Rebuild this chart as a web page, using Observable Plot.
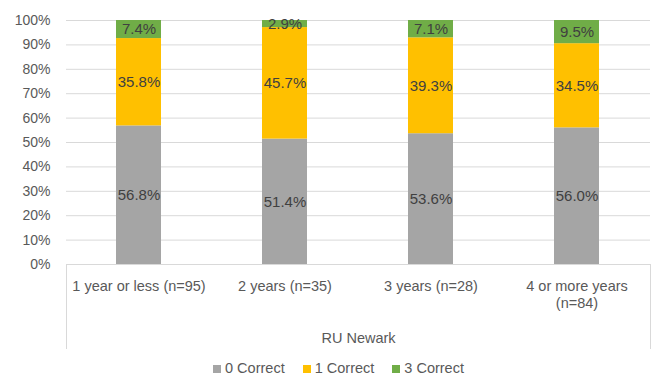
<!DOCTYPE html>
<html><head><meta charset="utf-8">
<script src="https://cdn.jsdelivr.net/npm/d3@7"></script>
<script src="https://cdn.jsdelivr.net/npm/@observablehq/plot@0.6"></script>
<style>
body{margin:0;background:#fff;font-family:"Liberation Sans",Arial,sans-serif;}
#legend{display:flex;justify-content:center;gap:18px;font-size:14.5px;color:#595959;height:26px;align-items:center;padding-left:22px;}
#legend span.sw{display:inline-block;width:8px;height:8px;margin-right:4px;}
</style></head><body>
<div id="chart"></div>
<div id="legend"></div>
<script>
const categories = ["1 year or less (n=95)", "2 years (n=35)", "3 years (n=28)", "4 or more years\n(n=84)"];
const series = ["0 Correct", "1 Correct", "3 Correct"];
const colors = ["#A5A5A5", "#FFC000", "#70AD47"];
const zeroCorrect = [56.8, 51.4, 53.6, 56.0];
const oneCorrect = [35.8, 45.7, 39.3, 34.5];
const threeCorrect = [7.4, 2.9, 7.1, 9.5];
const groupLabel = "RU Newark";
const yTicks = [0,0.1,0.2,0.3,0.4,0.5,0.6,0.7,0.8,0.9,1];

const vals = [zeroCorrect, oneCorrect, threeCorrect];
const data = [];
series.forEach((s, si) => categories.forEach((c, ci) => data.push({cat: c, series: s, v: vals[si][ci] / 100})));

const txt = "#404040";
const chart = Plot.plot({
  width: 655, height: 355,
  marginTop: 20, marginLeft: 66, marginRight: 5, marginBottom: 91,
  style: {fontFamily: "'Liberation Sans', Arial, sans-serif", fontSize: "14px", color: "#595959"},
  x: {domain: categories, paddingInner: 0.69, paddingOuter: 0.345, label: null},
  y: {domain: [0, 1], label: null},
  color: {domain: series, range: colors},
  marks: [
    Plot.ruleY(yTicks, {stroke: "#d9d9d9", strokeWidth: 1}),
    Plot.axisY({ticks: yTicks, tickFormat: d3.format(".0%"), tickSize: 0, tickPadding: 16, fontSize: 14, label: null}),
    Plot.axisX({tickSize: 0, tickPadding: 14, fontSize: 14.5, lineHeight: 1.2, label: null}),
    Plot.barY(data, {x: "cat", y: "v", fill: "series", z: "series", order: series}),
    Plot.text(data, Plot.stackY({x: "cat", y: "v", z: "series", order: series, text: d => (d.v * 100).toFixed(1) + "%", fill: txt, fontSize: 15})),
    Plot.frame({anchor: "left", stroke: "#d9d9d9", insetTop: 244, insetBottom: -84}),
    Plot.frame({anchor: "right", stroke: "#d9d9d9", insetTop: 244, insetBottom: -84}),
    Plot.text([groupLabel], {frameAnchor: "bottom", dy: 78, fill: "#595959", fontSize: 14.5})
  ]
});
document.getElementById("chart").appendChild(chart);
const lg = document.getElementById("legend");
series.forEach((s, i) => {
  const d = document.createElement("div");
  d.innerHTML = `<span class="sw" style="background:${colors[i]}"></span>${s}`;
  lg.appendChild(d);
});
</script></body></html>
